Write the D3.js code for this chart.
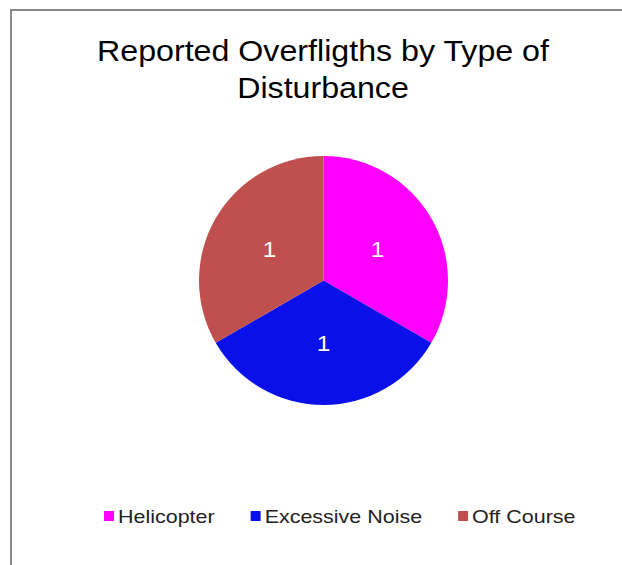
<!DOCTYPE html>
<html>
<head>
<meta charset="utf-8">
<script src="https://cdn.jsdelivr.net/npm/d3@7"></script>
<style>
  html, body { margin: 0; padding: 0; background: #fff; }
  svg { display: block; font-family: "Liberation Sans", Arial, sans-serif; }
</style>
</head>
<body>
<svg id="chart" width="622" height="565"></svg>
<script>
// chart data
const categories = ['Helicopter', 'Excessive Noise', 'Off Course'];
const counts = [1, 1, 1];
const colors = ['#FF00FF', '#0A10E8', '#C0504D'];
const titleLines = ['Reported Overfligths by Type of', 'Disturbance'];

const svg = d3.select('#chart');
const w = 622;
const h = 565;
const stretch = 1.11; // the source text renders a bit wider than Liberation Sans

// chart frame (only left/top edges visible in the window)
svg.append('rect')
  .attr('x', 11)
  .attr('y', 10)
  .attr('width', w + 20)
  .attr('height', h + 20)
  .attr('fill', '#fff')
  .attr('stroke', '#888')
  .attr('stroke-width', 2);

// title
svg.append('g')
  .selectAll('text')
  .data(titleLines)
  .enter()
  .append('text')
  .attr('transform', (d, i) => `translate(323,${61 + i * 37}) scale(${stretch},1)`)
  .attr('text-anchor', 'middle')
  .attr('font-size', 29)
  .attr('fill', '#000')
  .text(d => d);

// pie
const cx = 323.5;
const cy = 280.5;
const radius = 124.5;

const pie = d3.pie().sort(null).value(d => d.value);
const arc = d3.arc().innerRadius(0).outerRadius(radius);

const data = categories.map((c, i) => ({ name: c, value: counts[i], color: colors[i] }));

const g = svg.append('g').attr('transform', `translate(${cx},${cy})`);

g.selectAll('path')
  .data(pie(data))
  .enter()
  .append('path')
  .attr('d', arc)
  .attr('fill', d => d.data.color);

g.selectAll('text')
  .data(pie(data))
  .enter()
  .append('text')
  .attr('transform', d => `translate(${arc.centroid(d)}) scale(${stretch},1)`)
  .attr('dy', '0.36em')
  .attr('text-anchor', 'middle')
  .attr('font-size', 22)
  .attr('fill', '#fff')
  .text(d => d.data.value);

// legend
const legend = svg.append('g').attr('transform', 'translate(104,516)');
let lx = 0;
data.forEach((d) => {
  const item = legend.append('g').attr('transform', `translate(${lx},0)`);
  item.append('rect')
    .attr('x', 0)
    .attr('y', -5)
    .attr('width', 10)
    .attr('height', 10)
    .attr('fill', d.color);
  const t = item.append('text')
    .attr('transform', `translate(14,0) scale(${stretch + 0.02},1)`)
    .attr('dy', '0.36em')
    .attr('font-size', 19)
    .attr('fill', '#222')
    .text(d.name);
  lx += 14 + t.node().getComputedTextLength() * (stretch + 0.02) + 36;
});
</script>
</body>
</html>
